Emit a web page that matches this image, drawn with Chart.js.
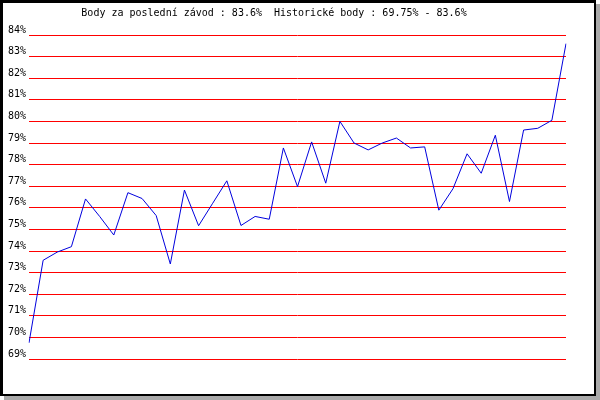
<!DOCTYPE html>
<html>
<head>
<meta charset="utf-8">
<script src="https://cdn.jsdelivr.net/npm/chart.js@4.4.1/dist/chart.umd.min.js"></script>
<style>
  body { margin: 0; background: #fff; }
  #frame {
    position: absolute; left: 0; top: 0;
    width: 591px; height: 391px;
    border-style: solid; border-color: #000;
    border-width: 3px 2px 2px 3px;
    box-shadow: 4px 4px 0 #aaa;
    background: #fff;
  }
  canvas { display: block; }
</style>
</head>
<body>
<div id="frame"><canvas id="pointsChart" width="591" height="391"></canvas></div>
<script>
const races = ['1', '2', '3', '4', '5', '6', '7', '8', '9', '10',
  '11', '12', '13', '14', '15', '16', '17', '18', '19', '20',
  '21', '22', '23', '24', '25', '26', '27', '28', '29', '30',
  '31', '32', '33', '34', '35', '36', '37', '38', '39'];
const points = [69.75, 73.57, 73.95, 74.2, 76.41, 75.6, 74.74, 76.7, 76.43, 75.64,
  73.4, 76.82, 75.17, 76.21, 77.25, 75.18, 75.6, 75.47, 78.77, 76.98,
  79.05, 77.14, 80.0, 79.0, 78.68, 79.0, 79.23, 78.77, 78.82, 75.89,
  76.88, 78.5, 77.6, 79.36, 76.29, 79.6, 79.68, 80.05, 83.6];
const yTicks = [69, 70, 71, 72, 73, 74, 75, 76, 77, 78, 79, 80, 81, 82, 83, 84];
const titleText = 'Body za poslední závod : 83.6%  Historické body : 69.75% - 83.6%';

const monoFont = { family: '"DejaVu Sans Mono", monospace', size: 10 };

const ctx = document.getElementById('pointsChart').getContext('2d');
const pointsChart = new Chart(ctx, {
    type: 'line',
    data: {
        labels: races,
        datasets: [{
            label: 'Body',
            data: points,
            borderColor: '#0000dd',
            borderWidth: 1,
            pointRadius: 0,
            tension: 0,
            fill: false
        }]
    },
    options: {
        responsive: false,
        animation: false,
        devicePixelRatio: 1,
        layout: {
            padding: { left: 0, right: 28, top: 32, bottom: 35 }
        },
        scales: {
            x: {
                display: false,
                offset: false
            },
            y: {
                min: yTicks[0],
                max: yTicks[yTicks.length - 1],
                afterBuildTicks(scale) {
                    scale.ticks = yTicks.map(v => ({ value: v }));
                },
                afterFit(scale) {
                    scale.width = 26;
                },
                border: { display: false },
                grid: {
                    color: '#ff0000',
                    lineWidth: 1,
                    drawTicks: false
                },
                ticks: {
                    color: '#000',
                    font: monoFont,
                    padding: 3,
                    labelOffset: -5,
                    callback: v => v + '%'
                }
            }
        },
        plugins: {
            legend: { display: false },
            tooltip: { enabled: false },
            title: { display: false }
        }
    },
    plugins: [
        {
            id: 'topText',
            afterDraw(chart) {
                const c = chart.ctx;
                c.save();
                c.font = '10px "DejaVu Sans Mono", monospace';
                c.fillStyle = '#000';
                c.textAlign = 'center';
                c.textBaseline = 'middle';
                c.fillText(titleText, 271, 10.5);
                c.restore();
            }
        }
    ]
});
</script>
</body>
</html>
